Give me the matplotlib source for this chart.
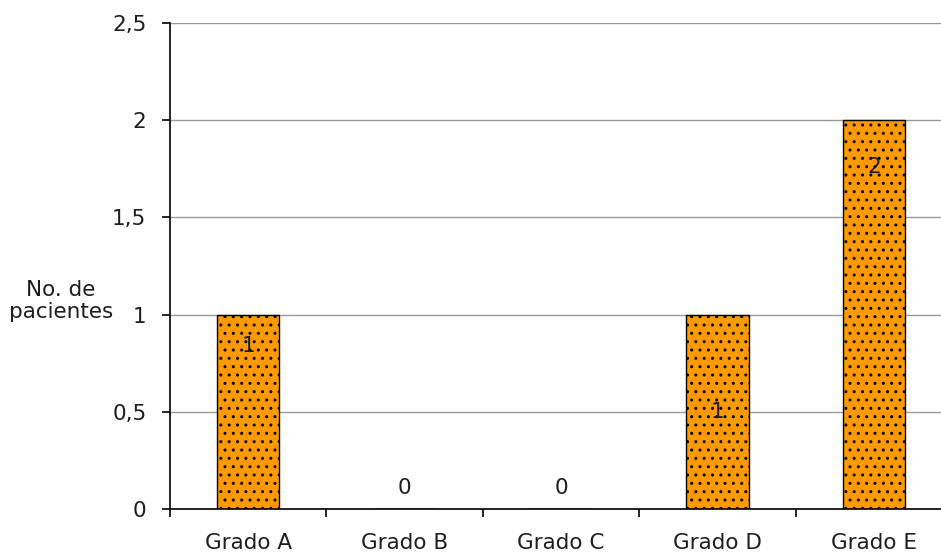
import matplotlib
matplotlib.use("Agg")
import matplotlib.pyplot as plt
import numpy as np

categories = ["Grado A", "Grado B", "Grado C", "Grado D", "Grado E"]
pacientes = [1, 0, 0, 1, 2]
# vertical placement of each value label (data units)
label_y = [0.84, 0.11, 0.11, 0.5, 1.76]
y_ticks = [0, 0.5, 1, 1.5, 2, 2.5]
y_tick_labels = ["0", "0,5", "1", "1,5", "2", "2,5"]

plt.rcParams["font.family"] = ["DejaVu Sans"]
plt.rcParams["hatch.color"] = "#222222"
plt.rcParams["hatch.linewidth"] = 1.0

FS = 15.5
TXT = "#1e1e1e"

fig = plt.figure(figsize=(9.41, 5.55), dpi=100)
ax = fig.add_axes([170 / 941, 1 - 509 / 555, 782 / 941, 486 / 555])

x = np.arange(len(categories))
ax.bar(x, pacientes, width=0.4, color="#FF9900", edgecolor="black",
       linewidth=1.0, hatch="..", zorder=3)

for xi, v, yl in zip(x, pacientes, label_y):
    ax.text(xi, yl, str(v), ha="center", va="center", fontsize=FS,
            color=TXT, zorder=4)

ax.set_xlim(-0.5, len(categories) - 0.5)
ax.set_ylim(0, 2.5)
ax.set_yticks(y_ticks)
ax.set_yticklabels(y_tick_labels, fontsize=FS, color=TXT)
ax.set_xticks(x)
ax.set_xticklabels(categories, fontsize=FS, color=TXT)
ax.tick_params(axis="x", length=0, pad=17)
ax.set_xticks(np.arange(-0.5, len(categories), 1), minor=True)
ax.tick_params(axis="x", which="minor", length=6, width=1.2, direction="out")
ax.tick_params(axis="y", length=6, width=1.2, direction="out", pad=11)

ax.yaxis.grid(True, color="#999999", linewidth=1.0, zorder=0)
ax.set_axisbelow(True)
for s in ("top", "right"):
    ax.spines[s].set_visible(False)
for s in ("left", "bottom"):
    ax.spines[s].set_linewidth(1.2)
    ax.spines[s].set_zorder(5)

fig.text(61 / 941, 1 - 301 / 555, "No. de\npacientes", ha="center",
         va="center", fontsize=FS, color=TXT, linespacing=1.15)

fig.savefig("out.png", dpi=100)
